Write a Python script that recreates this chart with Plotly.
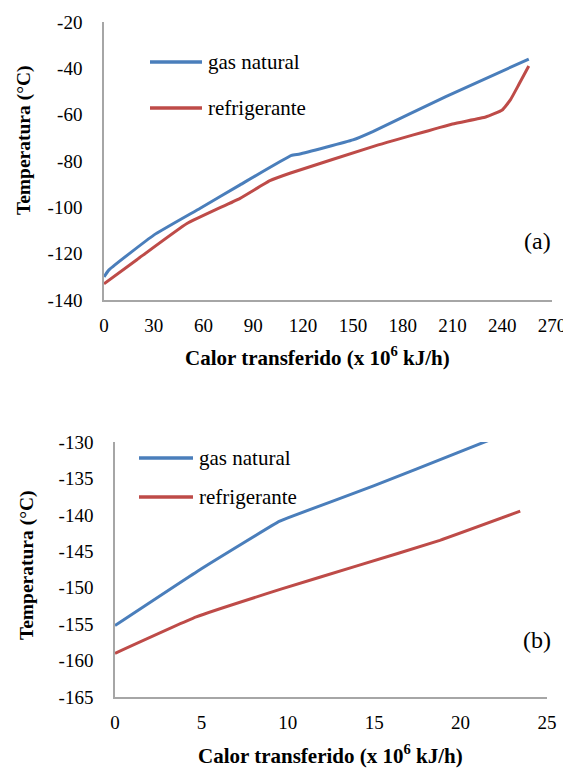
import plotly.graph_objects as go

# Top chart (a)
a_gas_x = [0, 3, 30, 58, 82, 113, 118, 150, 162, 206, 256]
a_gas_y = [-130, -127, -112, -100.4, -90.3, -77.6, -77, -70.9, -67.3, -52.2, -36]
a_ref_x = [0, 20, 50, 82, 100, 112, 162, 210, 230, 240, 245, 250, 256]
a_ref_y = [-133, -122.5, -107, -96.1, -88.5, -85.3, -73.8, -64, -61, -58, -53.5, -47, -39]

# Bottom chart (b)
b_gas_x = [0, 5, 9.5, 10, 15, 19.8, 23.5]
b_gas_y = [-155.2, -147.4, -140.9, -140.4, -136.0, -131.5, -128]
b_ref_x = [0, 4.7, 9.6, 14, 18.8, 23.45]
b_ref_y = [-159, -154, -150.2, -147, -143.5, -139.5]

a_xticks = [0, 30, 60, 90, 120, 150, 180, 210, 240, 270]
a_yticks = [-140, -120, -100, -80, -60, -40, -20]
b_xticks = [0, 5, 10, 15, 20, 25]
b_yticks = [-165, -160, -155, -150, -145, -140, -135, -130]

series_names = ["gas natural", "refrigerante"]
BLUE = "#4a7ebb"
RED = "#be4b48"
OFF = 8  # page body margin
W, H = 571 - OFF, 768 - OFF
FONT = "Liberation Serif"

fig = go.Figure()
line_kw = dict(width=3, shape="spline", smoothing=0.35)
fig.add_trace(go.Scatter(x=a_gas_x, y=a_gas_y, mode="lines", line=dict(color=BLUE, **line_kw), xaxis="x", yaxis="y", showlegend=False, name=series_names[0]))
fig.add_trace(go.Scatter(x=a_ref_x, y=a_ref_y, mode="lines", line=dict(color=RED, **line_kw), xaxis="x", yaxis="y", showlegend=False, name=series_names[1]))
fig.add_trace(go.Scatter(x=b_gas_x, y=b_gas_y, mode="lines", line=dict(color=BLUE, **line_kw), xaxis="x2", yaxis="y2", showlegend=False, name=series_names[0]))
fig.add_trace(go.Scatter(x=b_ref_x, y=b_ref_y, mode="lines", line=dict(color=RED, **line_kw), xaxis="x2", yaxis="y2", showlegend=False, name=series_names[1]))

def px(x):
    return (x - OFF) / W

def py(y):
    return 1 - (y - OFF) / H

axis_common = dict(showgrid=False, zeroline=False, showline=True, linecolor="#a6a6a6", linewidth=1.5,
                   automargin=False, ticks="", tickfont=dict(family=FONT, size=19, color="#000"))

def labels(vals):
    return [str(v) for v in vals]

fig.update_layout(
    template="none",
    width=W, height=H, margin=dict(l=0, r=0, t=0, b=0, autoexpand=False),
    paper_bgcolor="white", plot_bgcolor="white", showlegend=False,
    xaxis=dict(domain=[px(104), px(552)], range=[0, 270], tickvals=a_xticks, ticktext=labels(a_xticks),
               ticklabelstandoff=7, anchor="y", **axis_common),
    yaxis=dict(domain=[py(300), py(22)], range=[-140, -20], tickvals=a_yticks, ticktext=labels(a_yticks),
               ticklabelstandoff=16, anchor="x", **axis_common),
    xaxis2=dict(domain=[px(115), px(547)], range=[0, 25], tickvals=b_xticks, ticktext=labels(b_xticks),
                ticklabelstandoff=7, anchor="y2", **axis_common),
    yaxis2=dict(domain=[py(697), py(442)], range=[-165, -130], tickvals=b_yticks, ticktext=labels(b_yticks),
                ticklabelstandoff=16, anchor="x2", **axis_common),
)

xtitle_font = dict(family=FONT, size=21, color="#000")
ytitle_font = dict(family=FONT, size=19.5, color="#000")
xtitle = "<b>Calor transferido (x 10<sup>6</sup> kJ/h)</b>"
ytitle = "<b>Temperatura (°C)</b>"
anns = [
    dict(text=xtitle, x=px(317), y=py(356), xref="paper", yref="paper", showarrow=False, font=xtitle_font, xanchor="center", yanchor="middle"),
    dict(text=ytitle, x=px(24), y=py(140), xref="paper", yref="paper", showarrow=False, font=ytitle_font, textangle=-90, xanchor="center", yanchor="middle"),
    dict(text=xtitle, x=px(330), y=py(754), xref="paper", yref="paper", showarrow=False, font=xtitle_font, xanchor="center", yanchor="middle"),
    dict(text=ytitle, x=px(27), y=py(565), xref="paper", yref="paper", showarrow=False, font=ytitle_font, textangle=-90, xanchor="center", yanchor="middle"),
    dict(text="(a)", x=px(537), y=py(241), xref="paper", yref="paper", showarrow=False, font=dict(family=FONT, size=24, color="#000"), xanchor="center", yanchor="middle"),
    dict(text="(b)", x=px(537), y=py(640), xref="paper", yref="paper", showarrow=False, font=dict(family=FONT, size=24, color="#000"), xanchor="center", yanchor="middle"),
]
legend_font = dict(family=FONT, size=21, color="#000")
shapes = []
for (x0, x1, y, tx, name, col) in [
    (150, 202, 62, 206, series_names[0], BLUE),
    (150, 202, 108, 206, series_names[1], RED),
    (139, 193, 458, 197, series_names[0], BLUE),
    (139, 193, 497, 197, series_names[1], RED),
]:
    shapes.append(dict(type="line", xref="paper", yref="paper", x0=px(x0), x1=px(x1), y0=py(y), y1=py(y), line=dict(color=col, width=3.5)))
    anns.append(dict(text=name, x=px(tx), y=py(y), xref="paper", yref="paper", showarrow=False, font=legend_font, xanchor="left", yanchor="middle"))

fig.update_layout(annotations=anns, shapes=shapes)
fig.write_html("out.html")
